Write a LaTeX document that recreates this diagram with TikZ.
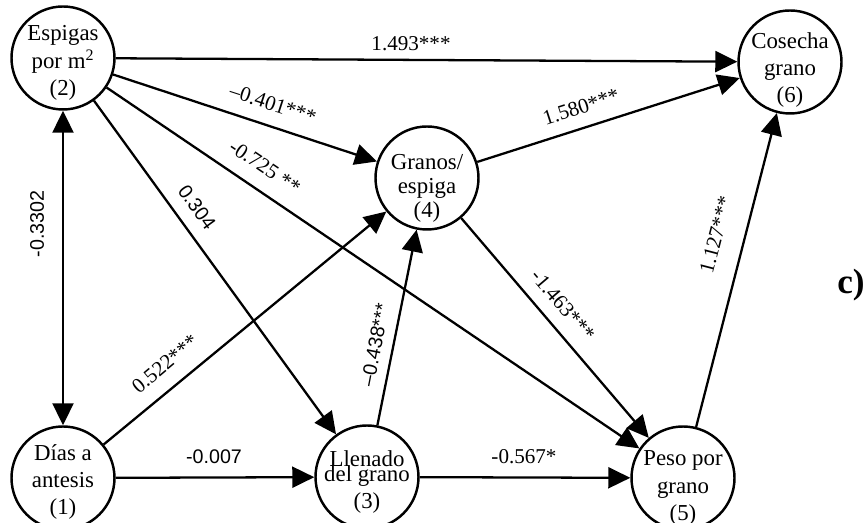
\documentclass[tikz,border=0pt]{standalone}
\usepackage{fontspec}
\setmainfont{Liberation Serif}
\setsansfont{Liberation Sans}
\usetikzlibrary{arrows.meta}

\begin{document}
\begin{tikzpicture}[
  var/.style={draw,circle,line width=1.4pt,minimum size=2.06cm,inner sep=0pt},
  vartxt/.style={align=center,inner sep=0pt,font=\fontsize{13}{15.6}\selectfont},
  link/.style={line width=1.3pt,-{Triangle[length=0.44cm,width=0.42cm]}},
  coef/.style={font=\fontsize{12}{14}\selectfont,inner sep=0pt},
  coefsf/.style={font=\sffamily\fontsize{11.2}{13}\selectfont,inner sep=0pt}
]
\useasboundingbox (0,0) rectangle (17.32,10.46);
% variables
\node[var] (espigas) at (1.26,9.30) {};
\node[var] (cosecha) at (15.80,9.22) {};
\node[var] (granos) at (8.54,6.90) {};
\node[var] (dias) at (1.26,0.90) {};
\node[var] (llenado) at (7.34,0.92) {};
\node[var] (peso) at (13.66,0.90) {};
\node[vartxt] (espigas-txt) at ([yshift=-0.1cm]espigas.center) {Espigas\\por m\textsuperscript{2}\\(2)};
\node[vartxt] (cosecha-txt) at ([yshift=-0.16cm]cosecha.center) {Cosecha\\grano\\(6)};
\node[vartxt] (granos-txt) at ([yshift=-0.2cm]granos.center) {Granos/\\[-2pt]espiga\\[-2pt](4)};
\node[vartxt] (dias-txt) at ([yshift=-0.08cm]dias.center) {Días a\\antesis\\(1)};
\node[vartxt] (llenado-txt) at ([yshift=-0.1cm]llenado.center) {Llenado\\[-7pt]del grano\\[0pt](3)};
\node[vartxt] (peso-txt) at ([yshift=-0.2cm]peso.center) {Peso por\\grano\\(5)};
\node[font=\bfseries\fontsize{20}{24}\selectfont,anchor=east,inner sep=0pt] (panel) at (17.30,4.76) {c)};
% paths
\draw[line width=1.3pt,{Triangle[length=0.44cm,width=0.42cm]}-{Triangle[length=0.44cm,width=0.42cm]}] (dias) -- (espigas);
\draw[link] (espigas) -- (cosecha);
\draw[link] (espigas) -- (granos);
\draw[link] (espigas) -- (peso);
\draw[link] (espigas) -- (llenado);
\draw[link] (dias) -- (granos);
\draw[link] (dias) -- (llenado);
\draw[link] (llenado) -- (granos);
\draw[link] (granos) -- (cosecha);
\draw[link] (granos) -- (peso);
\draw[link] (llenado) -- (peso);
\draw[link] (peso) -- (cosecha);
% coefficients
\node[coefsf,rotate=90] (c12) at (0.74,5.98) {-0.3302};
\node[coef] (c26) at (8.22,9.58) {1.493***};
\node[coef,rotate=-18] (c24) at (5.46,8.38) {–0.401***};
\node[coef,rotate=-34] (c25) at (5.30,7.12) {-0.725 **};
\node[coefsf,rotate=-54] (c23) at (3.94,6.32) {0.304};
\node[coef,rotate=40] (c14) at (3.30,3.18) {0.522***};
\node[coefsf] (c13) at (4.28,1.32) {-0.007};
\node[coefsf,rotate=79] (c34) at (7.50,3.56) {–0.438***};
\node[coef,rotate=18] (c46) at (11.62,8.32) {1.580***};
\node[coef,rotate=-49.5] (c45) at (11.26,4.36) {-1.463***};
\node[coef] (c35) at (10.48,1.32) {-0.567*};
\node[coef,rotate=75.5] (c56) at (14.32,5.76) {1.127***};
\end{tikzpicture}
\end{document}
